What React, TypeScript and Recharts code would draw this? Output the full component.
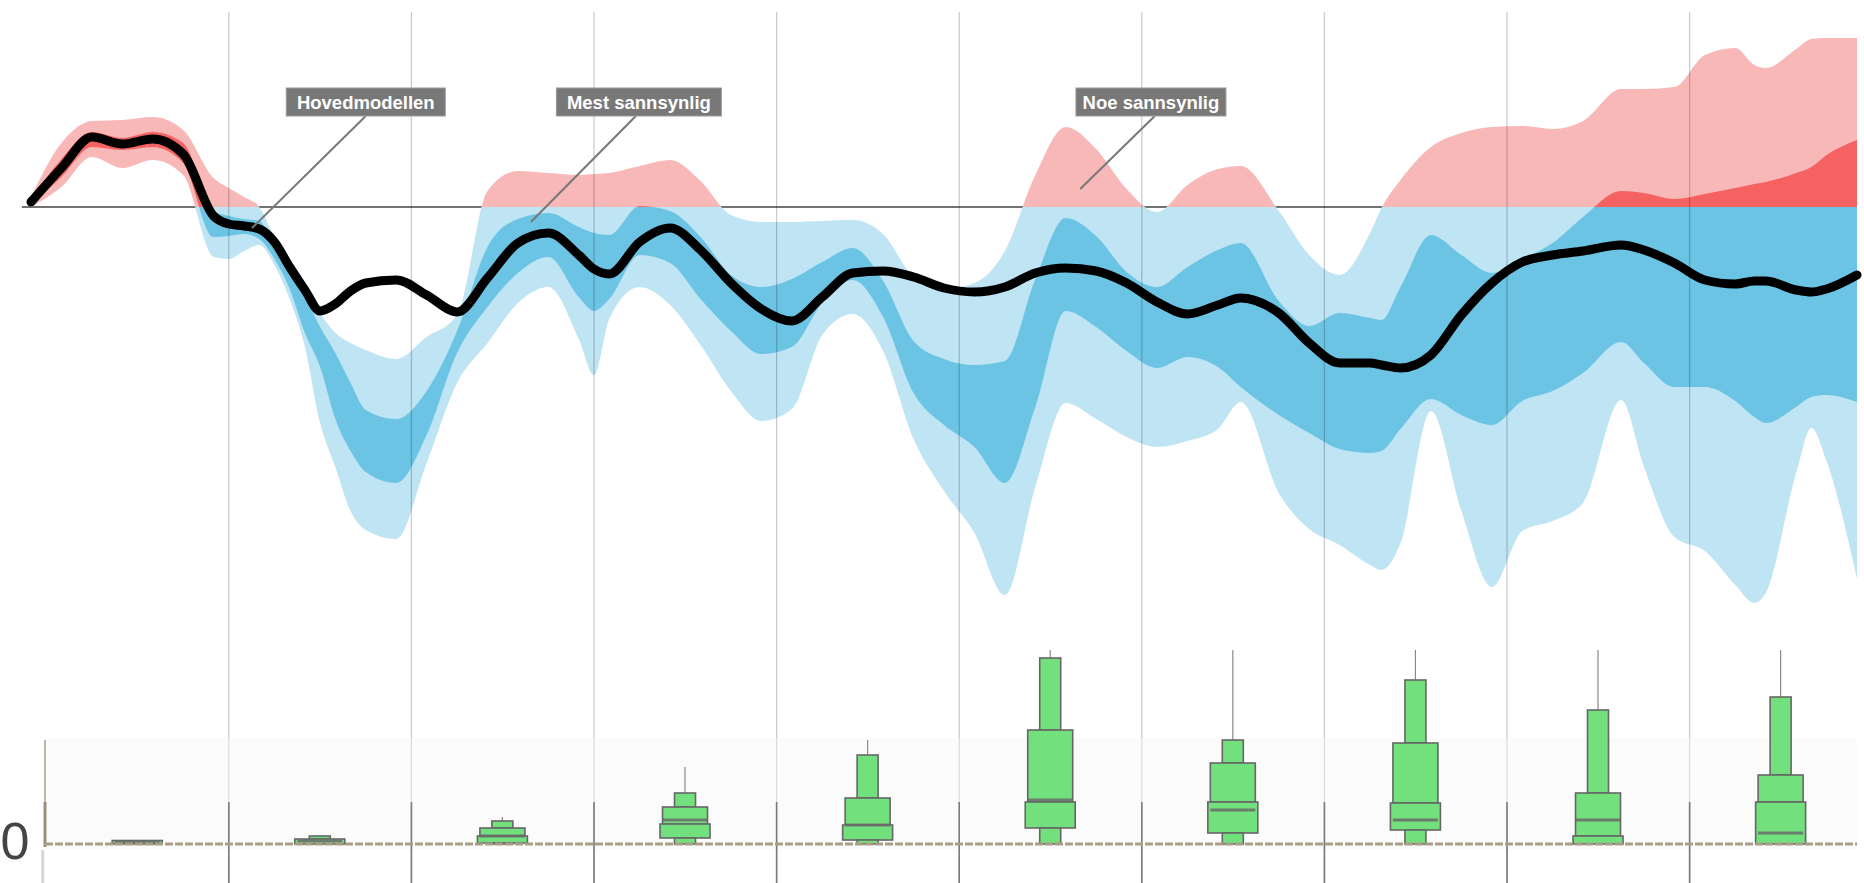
import React from 'react';
import {
  ComposedChart,
  Area,
  Line,
  Bar,
  XAxis,
  YAxis,
  ReferenceLine,
  ReferenceDot,
  ReferenceArea,
} from 'recharts';

// ---------- DATA (hours from start of forecast) ----------
const hours = [0, 4, 8, 12, 16, 20, 24, 26, 28, 30, 32, 34, 36, 38, 40, 42, 44, 48, 52, 56, 60, 64, 68, 72, 74, 76, 80, 84, 88, 92, 96, 100, 104, 108, 112, 116, 120, 124, 128, 132, 136, 140, 144, 148, 152, 156, 159, 164, 168, 172, 176, 177.5, 180, 184, 188, 192, 196, 200, 204, 209, 212, 216, 220, 224, 226.5, 228, 232, 234, 236, 240];

// Hovedmodellen (main model)
const mainModel = [0.25, 1.95, 3.5, 3.15, 3.4, 2.65, -0.45, -0.85, -0.95, -1.1, -1.75, -3.0, -4.15, -5.2, -4.85, -4.2, -3.8, -3.65, -4.4, -5.25, -3.55, -1.8, -1.3, -2.4, -3.1, -3.35, -1.75, -1.05, -2.15, -3.8, -5.1, -5.7, -4.5, -3.3, -3.2, -3.5, -4.05, -4.25, -4.0, -3.3, -3.05, -3.2, -3.8, -4.75, -5.35, -4.9, -4.55, -5.3, -6.8, -7.8, -7.8, -7.9, -8.05, -7.4, -5.4, -3.8, -2.75, -2.4, -2.2, -1.9, -2.15, -2.8, -3.65, -3.85, -3.7, -3.7, -4.15, -4.25, -4.1, -3.4];

// Noe sannsynlig (outer band)
const outerHigh = [0.5, 3.2, 4.3, 4.35, 4.5, 3.85, 1.45, 0.95, 0.5, 0.0, -1.5, -2.8, -4.0, -5.3, -6.3, -6.8, -7.15, -7.6, -6.5, -5.4, 0.8, 1.8, 1.7, 1.6, 1.65, 1.7, 2.05, 2.35, 1.3, -0.4, -0.75, -0.75, -0.7, -0.65, -1.35, -3.5, -4.1, -3.8, -2.2, 1.6, 4.0, 2.9, 0.9, -0.25, 1.1, 1.9, 2.05, -0.2, -2.4, -3.4, -1.3, -0.05, 1.35, 3.0, 3.7, 4.0, 4.05, 3.9, 4.3, 5.9, 5.9, 6.0, 7.6, 7.95, 7.1, 6.95, 7.9, 8.4, 8.45, 8.45];
const outerLow = [0.0, 1.0, 2.5, 1.95, 2.35, 1.6, -2.5, -2.6, -2.2, -1.9, -2.9, -4.6, -7.0, -10.8, -13.0, -15.2, -16.15, -16.6, -12.8, -8.8, -6.8, -4.8, -4.0, -6.6, -8.4, -5.6, -4.0, -4.9, -6.9, -9.2, -10.7, -10.1, -6.4, -5.35, -7.2, -11.6, -14.2, -16.3, -19.4, -14.0, -9.8, -10.6, -11.5, -12.0, -11.7, -11.1, -9.75, -14.3, -16.1, -16.9, -17.9, -18.15, -16.8, -10.2, -15.2, -19.0, -16.2, -15.7, -14.8, -9.65, -13.0, -16.5, -17.2, -18.9, -19.8, -19.3, -13.3, -11.05, -12.7, -18.6];

// Mest sannsynlig (inner band)
const innerHigh = [0.35, 2.4, 3.75, 3.45, 3.75, 3.2, -0.2, -0.45, -0.6, -0.7, -1.9, -3.2, -4.5, -6.0, -7.3, -8.8, -10.15, -10.6, -9.2, -6.2, -2.0, -0.6, -0.3, -1.0, -1.3, -1.4, 0.05, -0.2, -1.5, -3.4, -4.0, -3.6, -2.75, -2.05, -3.7, -6.7, -7.6, -7.9, -7.7, -3.6, -0.55, -1.45, -3.25, -4.0, -3.0, -2.15, -1.8, -4.7, -5.95, -5.3, -5.55, -5.65, -4.0, -1.4, -2.4, -3.3, -2.6, -1.8, -0.5, 0.8, 0.7, 0.4, 0.65, 0.95, 1.15, 1.25, 1.7, 2.0, 2.6, 3.35];
const innerLow = [0.15, 1.5, 3.0, 2.85, 3.0, 2.2, -1.5, -1.45, -1.35, -1.6, -2.6, -4.1, -6.3, -8.0, -10.6, -12.2, -13.25, -13.8, -11.4, -7.3, -5.0, -3.3, -2.5, -4.5, -5.2, -4.6, -2.4, -2.8, -4.6, -6.2, -7.35, -7.0, -4.8, -3.65, -5.5, -9.3, -10.9, -12.0, -13.8, -10.0, -5.2, -6.0, -7.2, -8.05, -7.5, -8.0, -9.0, -10.4, -11.3, -12.1, -12.3, -12.2, -11.1, -9.6, -10.4, -10.9, -9.7, -9.2, -8.3, -6.75, -7.8, -9.0, -9.0, -9.7, -10.5, -10.8, -10.0, -9.5, -9.4, -9.75];

// day separators
const dayLines = [26, 50, 74, 98, 122, 146, 170, 194, 218];

// precipitation boxes (one per day)
const boxHours = [14, 38, 62, 86, 110, 134, 158, 182, 206, 230];
const boxP10 = [0, 0, 0.1, 0.6, 0.4, 1.6, 1.1, 1.4, 0, 0];
const boxP25 = [0.35, 0.5, 0.8, 2.0, 1.9, 4.2, 4.2, 4.1, 0.8, 4.2];
const boxMedian = [0.15, 0.3, 0.8, 2.4, 1.9, 4.4, 3.4, 2.4, 2.4, 1.1];
const boxP75 = [0.35, 0.5, 1.6, 3.7, 4.6, 11.4, 8.1, 10.1, 5.1, 6.9];
const boxP90 = [0.35, 0.8, 2.3, 5.1, 8.9, 18.6, 10.4, 16.4, 13.4, 14.7];
const boxMax = [0.35, 0.9, 2.7, 7.7, 10.4, 19.4, 19.4, 19.4, 19.4, 19.4];

const noteTexts = ['Hovedmodellen', 'Mest sannsynlig', 'Noe sannsynlig'];

// ---------- LAYOUT ----------
const W = 1864;
const H = 883;
const LEFT = 31;
const RIGHT = 7;
const TOP = 12;
const T_MAX = 9.75;
const T_MIN = -33.8;
const zeroFrac = (TOP + (T_MAX / (T_MAX - T_MIN)) * (H - TOP)) / H;
const pxPerHour = (W - LEFT - RIGHT) / 240;
const axisT = (45 - LEFT) / pxPerHour;

const noteLayout = [
  { at: [44.0, 5.25], from: [44.0, 4.55], to: [29.05, -1.05], w: 159 },
  { at: [79.9, 5.25], from: [79.5, 4.55], to: [65.7, -0.75], w: 165 },
  { at: [147.2, 5.25], from: [147.7, 4.55], to: [137.9, 0.9], w: 150 },
];

const LIGHT_RED = '#f9b8b8';
const DARK_RED = '#f46262';
const LIGHT_BLUE = '#bfe4f3';
const MID_BLUE = '#6cc4e5';
const GREEN = '#72e07c';
const BOX_STROKE = '#666666';

const tempData = hours.map((t, i) => ({
  t,
  main: mainModel[i],
  outer: [outerLow[i], outerHigh[i]],
  inner: [innerLow[i], innerHigh[i]],
}));

const boxData = boxHours.map((t, i) => ({
  t,
  p10: boxP10[i],
  p25: boxP25[i],
  median: boxMedian[i],
  p75: boxP75[i],
  p90: boxP90[i],
  max: boxMax[i],
}));

const FONT = 'Liberation Sans, Arial, Helvetica, sans-serif';

function NoteBox(props: any) {
  const { cx, cy, text, w } = props;
  return (
    <g>
      <rect x={cx - w / 2} y={cy - 14} width={w} height={28} fill="#787878" stroke="#9a9a9a" strokeWidth={1} />
      <text x={cx} y={cy} dy={6.5} textAnchor="middle" fill="#ffffff" fontSize={18.5} fontWeight="bold" fontFamily={FONT}>
        {text}
      </text>
    </g>
  );
}

function BoxShape(props: any) {
  const { x, y, width, height, payload } = props;
  if (!payload || payload.max == null) return null;
  const cx = x + width / 2;
  const base = y + height;
  const k = payload.max > 0 ? height / payload.max : 0;
  const py = (v: number) => base - v * k;
  const narrow = 21;
  const wide = 45;
  const widest = 50;
  const seg = (lo: number, hi: number, w: number, key: string) =>
    hi > lo ? (
      <rect key={key} x={cx - w / 2} y={py(hi)} width={w} height={py(lo) - py(hi)} fill={GREEN} stroke={BOX_STROKE} strokeWidth={1.6} />
    ) : null;
  return (
    <g>
      {payload.max > payload.p90 ? (
        <line x1={cx} x2={cx} y1={py(payload.max)} y2={py(payload.p90)} stroke="#8a8a8a" strokeWidth={1.2} />
      ) : null}
      {seg(payload.p75, payload.p90, narrow, 'n2')}
      {seg(payload.p25, payload.p75, wide, 'w')}
      {seg(payload.p10, payload.p25, widest, 'ww')}
      {seg(0, payload.p10, narrow, 'n1')}
      <rect x={cx - wide / 2} y={py(payload.median) - 1.5} width={wide} height={3} fill="#6a6a6a" opacity={0.85} />
    </g>
  );
}

const ZeroTick = (props: any) => {
  const { y, payload } = props;
  return (
    <text x={15} y={y} dy={15} textAnchor="middle" fontSize={52} fill="#444" fontFamily={FONT}>
      {payload.value}
    </text>
  );
};

export default function App() {
  return (
    <div style={{ position: 'absolute', left: 0, top: 0, width: W, height: H, background: '#fff', overflow: 'hidden' }}>
      <div style={{ position: 'absolute', left: 0, top: 0 }}>
        <ComposedChart width={W} height={H} data={tempData} margin={{ top: TOP, right: RIGHT, bottom: 0, left: LEFT }}>
          <defs>
            <linearGradient id="gOuter" x1="0" y1="0" x2="0" y2={H} gradientUnits="userSpaceOnUse">
              <stop offset={zeroFrac} stopColor={LIGHT_RED} />
              <stop offset={zeroFrac} stopColor={LIGHT_BLUE} />
            </linearGradient>
            <linearGradient id="gInner" x1="0" y1="0" x2="0" y2={H} gradientUnits="userSpaceOnUse">
              <stop offset={zeroFrac} stopColor={DARK_RED} />
              <stop offset={zeroFrac} stopColor={MID_BLUE} />
            </linearGradient>
          </defs>
          <XAxis dataKey="t" type="number" domain={[0, 240]} hide />
          <YAxis type="number" domain={[T_MIN, T_MAX]} hide allowDataOverflow />
          <ReferenceLine
            segment={[{ x: -1.2, y: 0 }, { x: 240, y: 0 }]}
            stroke="#444"
            strokeWidth={1.5}
            ifOverflow="visible"
            zIndex={50}
          />
          <Area type="monotone" dataKey="outer" fill="url(#gOuter)" fillOpacity={1} stroke="none" isAnimationActive={false} />
          <Area type="monotone" dataKey="inner" fill="url(#gInner)" fillOpacity={1} stroke="none" isAnimationActive={false} />
          {dayLines.map((d) => (
            <ReferenceLine key={d} x={d} stroke="#000" strokeOpacity={0.2} strokeWidth={1.3} zIndex={150} />
          ))}
          <Line type="monotone" dataKey="main" stroke="#000" strokeWidth={9} dot={false} strokeLinecap="round" strokeLinejoin="round" isAnimationActive={false} />
          {noteLayout.map((n, i) => (
            <ReferenceLine
              key={'l' + i}
              segment={[{ x: n.from[0], y: n.from[1] }, { x: n.to[0], y: n.to[1] }]}
              stroke="#777"
              strokeWidth={2}
              zIndex={1500}
            />
          ))}
          {noteLayout.map((n, i) => (
            <ReferenceDot
              key={'d' + i}
              x={n.at[0]}
              y={n.at[1]}
              r={1}
              zIndex={1600}
              shape={(p: any) => <NoteBox cx={p.cx} cy={p.cy} text={noteTexts[i]} w={n.w} />}
            />
          ))}
        </ComposedChart>
      </div>
      <div style={{ position: 'absolute', left: 0, top: 0 }}>
        <ComposedChart width={W} height={H} data={boxData} margin={{ top: 650, right: RIGHT, bottom: 19, left: 0 }}>
          <XAxis dataKey="t" type="number" domain={[0, 240]} hide />
          <YAxis
            type="number"
            domain={[-2, 19.4]}
            width={LEFT}
            ticks={[0]}
            axisLine={false}
            tickLine={false}
            tick={<ZeroTick />}
            allowDataOverflow
          />
          <ReferenceArea x1={axisT} x2={240} y1={-0.6} y2={10.6} fill="#f4f4f4" fillOpacity={0.4} stroke="none" ifOverflow="visible" zIndex={10} />
          {dayLines.map((d) => (
            <ReferenceLine
              key={'g' + d}
              segment={[{ x: d, y: 4.2 }, { x: d, y: -3.9 }]}
              stroke="#7a7a7a"
              strokeWidth={1.6}
              ifOverflow="visible"
              zIndex={150}
            />
          ))}
          <ReferenceLine
            segment={[{ x: axisT, y: 10.4 }, { x: axisT, y: 4.2 }]}
            stroke="#a49a86"
            strokeWidth={1.4}
            ifOverflow="visible"
            zIndex={150}
          />
          <ReferenceLine
            segment={[{ x: axisT, y: 4.2 }, { x: axisT, y: -0.3 }]}
            stroke="#9b917c"
            strokeWidth={3}
            ifOverflow="visible"
            zIndex={150}
          />
          <ReferenceLine
            segment={[{ x: axisT - 0.3, y: -0.6 }, { x: axisT - 0.3, y: -3.9 }]}
            stroke="#d6d6d6"
            strokeWidth={3}
            ifOverflow="visible"
            zIndex={150}
          />
          <Bar dataKey="max" barSize={50} shape={(p: any) => <BoxShape {...p} />} isAnimationActive={false} />
          <ReferenceLine
            segment={[{ x: axisT, y: 0 }, { x: 240, y: 0 }]}
            stroke="#a89d86"
            strokeWidth={3}
            strokeDasharray="8 2"
            ifOverflow="visible"
            zIndex={900}
          />
        </ComposedChart>
      </div>
    </div>
  );
}
